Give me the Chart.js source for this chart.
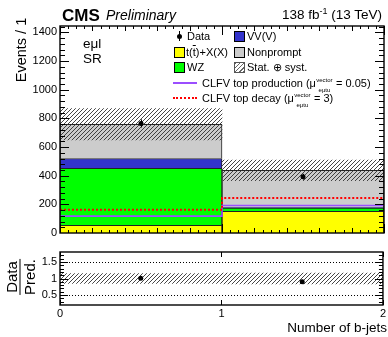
<!DOCTYPE html>
<html><head><meta charset="utf-8">
<script src="https://cdn.jsdelivr.net/npm/chart.js@4.4.0/dist/chart.umd.min.js"></script>
<style>
html,body{margin:0;padding:0;background:#fff;}
#wrap{position:relative;width:388px;height:337px;overflow:hidden;font-family:'Liberation Sans',Arial,Helvetica,sans-serif;color:#000;}
canvas{position:absolute;left:0;top:0;}
.t{position:absolute;white-space:nowrap;line-height:1;}
.lg{font-size:11px;}
.box{position:absolute;width:9px;height:9px;border:1px solid #000;}
.ss{display:inline-block;position:relative;width:17px;height:1px;}
.ss span{position:absolute;left:0;width:17px;text-align:center;font-size:6px;line-height:1;}
.rot{position:absolute;transform:translate(-50%,-50%) rotate(-90deg);white-space:nowrap;line-height:1;}
</style></head>
<body><div id="wrap">
<canvas id="main" width="388" height="337"></canvas>
<canvas id="ratio" width="388" height="337"></canvas>

<div class="t" style="left:62px;top:6.7px;font-size:17px;font-weight:bold;">CMS</div>
<div class="t" style="left:106px;top:8.2px;font-size:14px;font-style:italic;">Preliminary</div>
<div class="t" style="right:6px;top:8.4px;font-size:13.5px;">138 fb<sup style="font-size:9px;vertical-align:5px;line-height:0">-1</sup> (13 TeV)</div>

<div class="rot" style="left:20.5px;top:50px;font-size:14.5px;">Events / 1</div>
<div class="rot" style="left:20px;top:277px;font-size:15px;text-align:center;">
  <div style="border-bottom:1px solid #000;padding:0 1px 1px 1px;">Data</div><div style="padding-top:1px;">Pred.</div>
</div>
<div class="t" style="right:1px;top:321px;font-size:13.5px;">Number of b-jets</div>

<div class="t" style="left:83px;top:37px;font-size:13.5px;">eμl</div>
<div class="t" style="left:83px;top:51.5px;font-size:13.5px;">SR</div>

<!-- legend -->
<div style="position:absolute;left:178.5px;top:31px;width:1px;height:10px;background:#000;"></div>
<div style="position:absolute;left:176.5px;top:33.5px;width:5px;height:5px;border-radius:50%;background:#000;"></div>
<div class="t lg" style="left:187px;top:30.6px;">Data</div>
<div class="box" style="left:234px;top:30.5px;background:#3333cc;"></div>
<div class="t lg" style="left:247px;top:30.6px;">VV(V)</div>

<div class="box" style="left:174px;top:46.5px;background:#ffff00;"></div>
<div class="t lg" style="left:186px;top:46.6px;">t(<span style="text-decoration:overline">t</span>)+X(X)</div>
<div class="box" style="left:234px;top:46.5px;background:#cccccc;"></div>
<div class="t lg" style="left:247px;top:46.6px;">Nonprompt</div>

<div class="box" style="left:174px;top:61.5px;background:#00ff00;"></div>
<div class="t lg" style="left:187px;top:61.6px;">WZ</div>
<div class="box" style="left:234px;top:61.5px;background:repeating-linear-gradient(135deg,#666 0 1px,#fff 1px 3px);border-color:#555;"></div>
<div class="t lg" style="left:247px;top:61.6px;">Stat. ⊕ syst.</div>

<div style="position:absolute;left:173px;top:82px;width:24px;height:2px;background:#9b4dff;"></div>
<div class="t lg" style="left:202px;top:77.6px;">CLFV top production (μ<span class="ss"><span style="top:-8.2px">vector</span><span style="top:1.1px">eμtu</span></span> = 0.05)</div>
<div style="position:absolute;left:173px;top:97px;width:24px;height:0;border-top:2px dotted #ff0000;"></div>
<div class="t lg" style="left:202px;top:92.6px;">CLFV top decay (μ<span class="ss"><span style="top:-8.2px">vector</span><span style="top:1.1px">eμtu</span></span> = 3)</div>
</div>

<script>
// ---- data ----
const binEdges = [0, 1, 2];
const binCenters = [0.5, 1.5];
const xTickLabels = ['0', '1', '2'];
const ttX = [54, 152];
const WZ = [397, 22];
const VV = [69, 4];
const nonprompt = [239, 259];
const bkgUnc = [110, 72];
const dataVals = [765, 393];
const dataErr = [28, 20];
const clfvProd = [118, 192];
const clfvDecay = [162, 244];
const ratioVals = [1.01, 0.90];
const ratioErr = [0.037, 0.046];
const ratioUnc = [0.145, 0.165];

Chart.defaults.font.family = "'Liberation Sans', Arial, Helvetica, sans-serif";
Chart.defaults.color = '#000';

const pts = v => binCenters.map((x, i) => ({x, y: v[i]}));
const steps = v => binEdges.map((x, i) => ({x, y: v[Math.min(i, v.length - 1)]}));
const totals = binCenters.map((_, i) => ttX[i] + WZ[i] + VV[i] + nonprompt[i]);

function makeHatch() {
  const c = document.createElement('canvas');
  c.width = 4; c.height = 4;
  const g = c.getContext('2d');
  g.strokeStyle = 'rgba(50,50,50,0.9)';
  g.lineWidth = 1;
  g.beginPath();
  g.moveTo(0, 4); g.lineTo(4, 0);
  g.moveTo(-1, 1); g.lineTo(1, -1);
  g.moveTo(3, 5); g.lineTo(5, 3);
  g.stroke();
  return document.createElement('canvas').getContext('2d').createPattern(c, 'repeat');
}
const hatch = makeHatch();

const framePlugin = {
  id: 'frameTicks',
  beforeDatasetsDraw(chart, args, o) {
    if (!o.refLines) return;
    const {ctx, chartArea: a, scales: {y}} = chart;
    ctx.save();
    ctx.strokeStyle = '#000'; ctx.lineWidth = 1; ctx.setLineDash([1, 2]);
    ctx.beginPath();
    o.refLines.forEach(v => { const p = Math.round(y.getPixelForValue(v)) + 0.5; ctx.moveTo(a.left, p); ctx.lineTo(a.right, p); });
    ctx.stroke();
    ctx.restore();
  },
  afterDatasetsDraw(chart, args, o) {
    const {ctx, chartArea: a, scales: {x, y}} = chart;
    ctx.save();
    ctx.strokeStyle = '#000'; ctx.lineWidth = 1;
    chart.data.datasets.forEach((ds, di) => {
      if (!ds.errors) return;
      const meta = chart.getDatasetMeta(di);
      ctx.beginPath();
      meta.data.forEach((el, j) => {
        const v = ds.data[j].y, e = ds.errors[j];
        const px = Math.round(el.x) + 0.5;
        ctx.moveTo(px, y.getPixelForValue(v + e));
        ctx.lineTo(px, y.getPixelForValue(v - e));
      });
      ctx.stroke();
    });
    ctx.beginPath();
    const n = Math.round((o.yTo - o.yFrom) / o.yMinor);
    for (let k = 0; k <= n; k++) {
      const v = o.yFrom + k * o.yMinor;
      const p = Math.round(y.getPixelForValue(v)) + 0.5;
      if (p < a.top + 1 || p > a.bottom - 1) continue;
      const r = v / o.yMajor;
      const L = Math.abs(r - Math.round(r)) < 1e-6 ? o.yMajLen : o.yMinLen;
      ctx.moveTo(a.left, p); ctx.lineTo(a.left + L, p);
      ctx.moveTo(a.right, p); ctx.lineTo(a.right - L, p);
    }
    o.xLevels.forEach(lv => {
      const m = Math.round((x.max - x.min) / lv.step);
      for (let k = 0; k <= m; k++) {
        const v = x.min + k * lv.step;
        const p = Math.round(x.getPixelForValue(v)) + 0.5;
        ctx.moveTo(p, a.bottom); ctx.lineTo(p, a.bottom - lv.len);
        ctx.moveTo(p, a.top); ctx.lineTo(p, a.top + lv.len);
      }
    });
    ctx.stroke();
    ctx.lineWidth = 1.4;
    ctx.strokeRect(a.left, a.top, a.right - a.left, a.bottom - a.top);
    ctx.restore();
  }
};

const barBase = {type: 'bar', grouped: false, barPercentage: 1, categoryPercentage: 1, borderColor: '#222', borderWidth: 1, stack: 'bkg'};
const plainNum = v => String(v);

new Chart(document.getElementById('main'), {
  data: {
    datasets: [
      {type: 'line', label: 'Data', data: pts(dataVals), errors: dataErr, showLine: false, pointRadius: 2.5, pointBackgroundColor: '#000', pointBorderWidth: 0, stack: 'obs'},
      {type: 'line', label: 'CLFV top decay', data: steps(clfvDecay), stepped: true, borderColor: '#ff0000', borderWidth: 2, borderDash: [2, 2], pointRadius: 0, fill: false, stack: 'sig2'},
      {type: 'line', label: 'CLFV top production', data: steps(clfvProd), stepped: true, borderColor: '#9b4dff', borderWidth: 1.6, pointRadius: 0, fill: false, stack: 'sig1'},
      {type: 'bar', label: 'Stat. ⊕ syst.', grouped: false, barPercentage: 1, categoryPercentage: 1, borderWidth: 0, backgroundColor: hatch, stack: 'unc',
        data: binCenters.map((x, i) => ({x, y: [totals[i] - bkgUnc[i], totals[i] + bkgUnc[i]]}))},
      {...barBase, label: 't(t)+X(X)', data: pts(ttX), backgroundColor: '#ffff00'},
      {...barBase, label: 'WZ', data: pts(WZ), backgroundColor: '#00ff00'},
      {...barBase, label: 'VV(V)', data: pts(VV), backgroundColor: '#3333cc'},
      {...barBase, label: 'Nonprompt', data: pts(nonprompt), backgroundColor: '#cccccc'}
    ]
  },
  options: {
    responsive: false, animation: false, events: [],
    layout: {padding: {left: 0, right: 4, top: 26, bottom: 104}},
    plugins: {legend: {display: false}, tooltip: {enabled: false},
      frameTicks: {yFrom: 0, yTo: 1440, yMinor: 40, yMajor: 200, yMajLen: 9, yMinLen: 5,
        xLevels: [{step: 0.05, len: 3}, {step: 0.2, len: 5}, {step: 1, len: 9}]}},
    scales: {
      x: {type: 'linear', min: 0, max: 2, offset: false, display: false, ticks: {stepSize: 1}},
      y: {type: 'linear', stacked: true, min: 0, max: 1445,
        ticks: {stepSize: 200, includeBounds: false, padding: 3, font: {size: 11}, color: '#000', callback: plainNum},
        grid: {display: false, drawTicks: false}, border: {display: false},
        afterFit(s) { s.width = 60; }}
    }
  },
  plugins: [framePlugin]
});

new Chart(document.getElementById('ratio'), {
  data: {
    datasets: [
      {type: 'line', label: 'Data/Pred.', data: pts(ratioVals), errors: ratioErr, showLine: false, pointRadius: 2.5, pointBackgroundColor: '#000', pointBorderWidth: 0},
      {type: 'bar', label: 'unc', grouped: false, barPercentage: 1, categoryPercentage: 1, borderWidth: 0, backgroundColor: hatch,
        data: binCenters.map((x, i) => ({x, y: [1 - ratioUnc[i], 1 + ratioUnc[i]]}))}
    ]
  },
  options: {
    responsive: false, animation: false, events: [],
    layout: {padding: {left: 0, right: 4, top: 252, bottom: 0}},
    plugins: {legend: {display: false}, tooltip: {enabled: false},
      frameTicks: {yFrom: 0.2, yTo: 1.8, yMinor: 0.1, yMajor: 0.5, yMajLen: 8, yMinLen: 4,
        xLevels: [{step: 1, len: 5}], refLines: [0.5, 1.5]}},
    scales: {
      x: {type: 'linear', min: 0, max: 2, offset: false,
        ticks: {stepSize: 1, autoSkip: false, maxRotation: 0, padding: 2, font: {size: 11}, color: '#000',
          callback: v => xTickLabels[binEdges.indexOf(v)]},
        grid: {display: false, drawTicks: false, offset: false}, border: {display: false},
        afterFit(s) { s.height = 32; }},
      y: {type: 'linear', min: 0.2, max: 1.8,
        ticks: {stepSize: 0.5, includeBounds: false, padding: 3, font: {size: 11}, color: '#000', callback: plainNum},
        grid: {display: false, drawTicks: false}, border: {display: false},
        afterFit(s) { s.width = 60; }}
    }
  },
  plugins: [framePlugin]
});
</script>
</body></html>
